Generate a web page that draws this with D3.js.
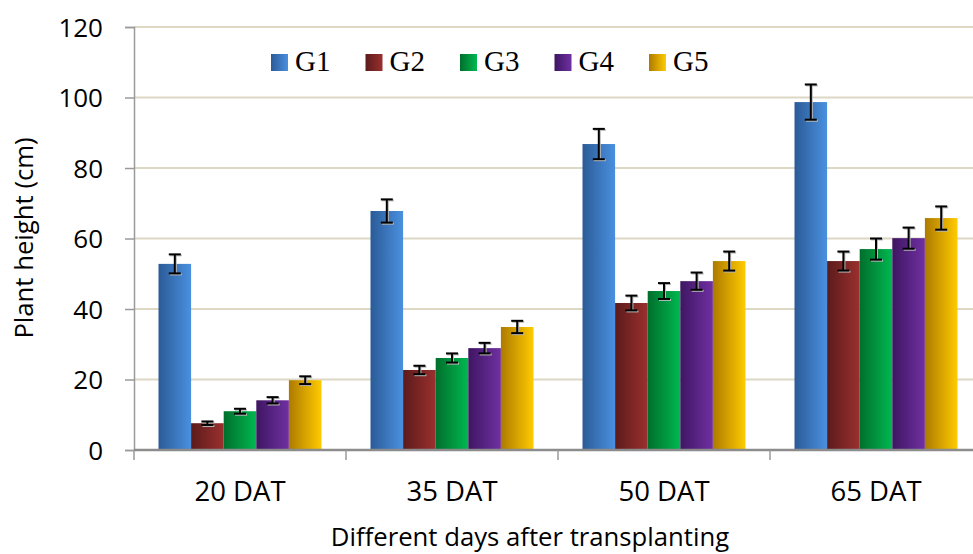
<!DOCTYPE html>
<html>
<head>
<meta charset="utf-8">
<script src="https://cdn.jsdelivr.net/npm/d3@7"></script>
<style>
html,body{margin:0;padding:0;background:#fff;}
svg{display:block;}
</style>
</head>
<body>
<svg id="chart" width="973" height="554"></svg>
<script>
const categories = ["20 DAT", "35 DAT", "50 DAT", "65 DAT"];
const seriesNames = ["G1", "G2", "G3", "G4", "G5"];
const G1 = [52.8, 67.8, 86.8, 98.7];
const G2 = [7.6, 22.7, 41.7, 53.6];
const G3 = [11.0, 26.1, 45.1, 57.0];
const G4 = [14.1, 28.9, 47.9, 60.1];
const G5 = [19.8, 34.9, 53.6, 65.8];
const E1 = [2.7, 3.3, 4.3, 5.0];
const E2 = [0.5, 1.2, 2.1, 2.7];
const E3 = [0.7, 1.3, 2.25, 3.0];
const E4 = [0.9, 1.5, 2.45, 3.0];
const E5 = [1.1, 1.75, 2.7, 3.3];
const yTicks = [0, 20, 40, 60, 80, 100, 120];
const colorsDark = ["#2b5b97", "#5c1b1b", "#006f2c", "#3e1662", "#ad7a00"];
const colorsLight = ["#4a90e0", "#9a302e", "#00b850", "#7030a2", "#ffcb00"];

const values = [G1, G2, G3, G4, G5];
const errors = [E1, E2, E3, E4, E5];

const svg = d3.select("#chart");
const defs = svg.append("defs");
seriesNames.forEach((s, i) => {
  const g = defs.append("linearGradient").attr("id", "grad" + i)
    .attr("x1", "0%").attr("x2", "100%").attr("y1", "0%").attr("y2", "0%");
  g.append("stop").attr("offset", "0%").attr("stop-color", colorsDark[i]);
  g.append("stop").attr("offset", "100%").attr("stop-color", colorsLight[i]);
});

const mLeft = 134, mBottom = 450, mTop = 27, mRightFull = 982;
const y = d3.scaleLinear().domain([0, 120]).range([mBottom, mTop]);
const x0 = d3.scaleBand().domain(categories).range([mLeft, mRightFull]).paddingInner(0).paddingOuter(0);
const x1 = d3.scaleBand().domain(seriesNames).range([24.5, x0.bandwidth() - 24.5]).padding(0);

// gridlines
svg.append("g").selectAll("line").data(yTicks.filter(d => d > 0)).join("line")
  .attr("x1", mLeft).attr("x2", 973)
  .attr("y1", d => y(d)).attr("y2", d => y(d))
  .attr("stroke", "#dcd8c3").attr("stroke-width", 2);

// y axis
const yAxis = d3.axisLeft(y).tickValues(yTicks).tickSize(9).tickPadding(22);
const ya = svg.append("g").attr("transform", `translate(${mLeft},0)`).call(yAxis);
ya.select(".domain").attr("stroke", "#9a9a9a").attr("stroke-width", 1.5);
ya.selectAll(".tick line").attr("stroke", "#9a9a9a").attr("stroke-width", 1.5);
ya.selectAll(".tick text").attr("font-family", "'Open Sans', sans-serif")
  .attr("font-size", 26).attr("fill", "#000").attr("dy", "0.36em");

// bars
const groups = svg.append("g").selectAll("g").data(categories).join("g")
  .attr("transform", d => `translate(${x0(d)},0)`);

groups.each(function(cat, ci) {
  const g = d3.select(this);
  seriesNames.forEach((s, si) => {
    const v = values[si][ci];
    g.append("rect")
      .attr("x", x1(s)).attr("width", x1.bandwidth())
      .attr("y", y(v)).attr("height", y(0) - y(v))
      .attr("fill", `url(#grad${si})`);
  });
});

// error bars
groups.each(function(cat, ci) {
  const g = d3.select(this);
  seriesNames.forEach((s, si) => {
    const v = values[si][ci], e = errors[si][ci];
    const cx = x1(s) + x1.bandwidth() / 2;
    const eb = g.append("g");
    [[1, 1, "#b8b8b8"], [0, 0, "#000"]].forEach(([dx, dy, col]) => {
      eb.append("line").attr("x1", cx + dx).attr("x2", cx + dx)
        .attr("y1", y(v + e) + dy).attr("y2", y(v - e) + dy)
        .attr("stroke", col).attr("stroke-width", 2);
      [v + e, v - e].forEach(t => {
        eb.append("line").attr("x1", cx - 6 + dx).attr("x2", cx + 6 + dx)
          .attr("y1", y(t) + dy).attr("y2", y(t) + dy)
          .attr("stroke", col).attr("stroke-width", 2);
      });
    });
  });
});

// x axis
const xAxis = d3.axisBottom(x0).tickSize(0).tickPadding(31);
const xa = svg.append("g").attr("transform", `translate(0,${mBottom})`).call(xAxis);
xa.select(".domain").remove();
xa.selectAll(".tick text").attr("font-family", "'Open Sans', sans-serif")
  .attr("font-size", 27.5).attr("fill", "#000");
svg.append("line").attr("x1", mLeft).attr("x2", 973).attr("y1", mBottom).attr("y2", mBottom)
  .attr("stroke", "#8c8c8c").attr("stroke-width", 2.5);
svg.append("g").selectAll("line").data(categories).join("line")
  .attr("x1", d => x0(d)).attr("x2", d => x0(d))
  .attr("y1", mBottom).attr("y2", mBottom + 10)
  .attr("stroke", "#9a9a9a").attr("stroke-width", 1.5);

// axis titles
svg.append("text").attr("x", 530).attr("y", 546).attr("text-anchor", "middle")
  .attr("font-family", "'Open Sans', sans-serif").attr("font-size", 25.7).attr("fill", "#000")
  .text("Different days after transplanting");
svg.append("text").attr("transform", "translate(33,238) rotate(-90)").attr("text-anchor", "middle")
  .attr("font-family", "'Open Sans', sans-serif").attr("font-size", 25.7).attr("fill", "#000")
  .text("Plant height (cm)");

// legend
const legend = svg.append("g");
seriesNames.forEach((s, i) => {
  const lx = 271 + i * 94.5;
  legend.append("rect").attr("x", lx).attr("y", 54).attr("width", 17).attr("height", 17)
    .attr("fill", `url(#grad${i})`);
  legend.append("text").attr("x", lx + 24).attr("y", 71)
    .attr("font-family", "'Liberation Serif', 'Times New Roman', serif")
    .attr("font-size", 29).attr("fill", "#000").text(s);
});
</script>
</body>
</html>
